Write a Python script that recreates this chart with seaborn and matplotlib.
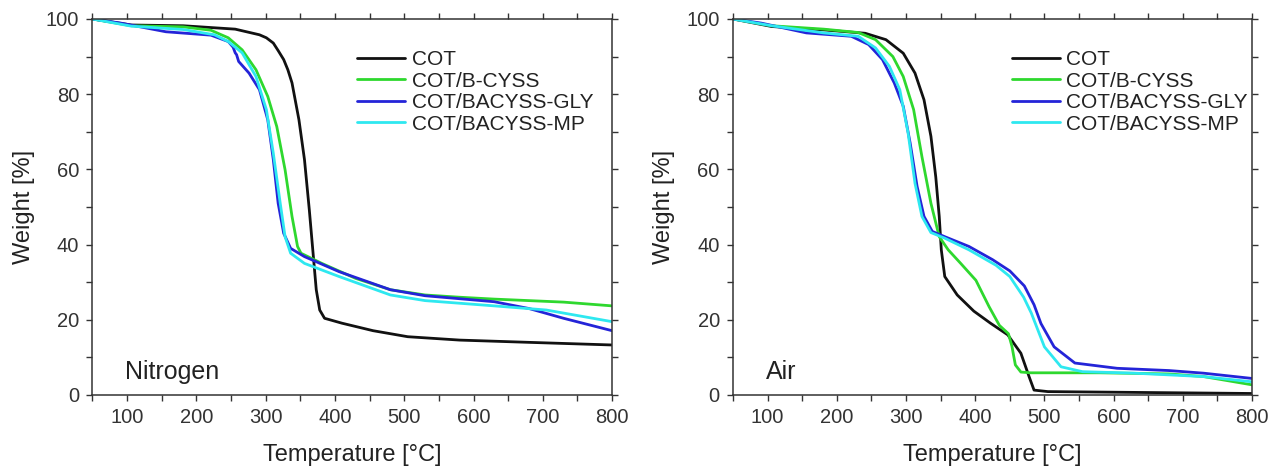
import numpy as np
import pandas as pd
import matplotlib
matplotlib.use('Agg')
import matplotlib.pyplot as plt
from matplotlib.ticker import MultipleLocator
import seaborn as sns

# Datos (TGA): temperatura [°C] y peso [%]
# --- Nitrogeno ---
n_cot_t = [50, 106, 181, 256, 291, 301, 311, 318, 326, 332, 338, 348, 356, 363, 368, 373, 378, 385, 410, 455, 505, 580, 680, 800]
n_cot_w = [100, 98.4, 98.2, 97.3, 95.8, 95.0, 93.6, 91.6, 89.2, 86.5, 83, 73.2, 62.6, 49.2, 38.6, 28, 22.6, 20.4, 19.1, 17.1, 15.5, 14.6, 14.0, 13.3]

n_bcyss_t = [50, 106, 181, 221, 246, 266, 286, 303, 316, 328, 338, 346, 351, 381, 430, 480, 530, 580, 630, 680, 730, 800]
n_bcyss_w = [100, 98.2, 97.9, 97, 95, 91.8, 86.5, 79.4, 71.4, 59.9, 47.5, 39.5, 37.7, 35, 31, 28, 26.6, 26, 25.5, 25.1, 24.7, 23.7]

n_gly_t = [50, 91, 156, 221, 246, 253, 256, 258, 261, 276, 291, 303, 311, 318, 326, 336, 356, 406, 480, 530, 630, 680, 730, 800]
n_gly_w = [100, 98.9, 96.6, 95.7, 94, 92.5, 91.0, 90.5, 88.7, 85.6, 81.2, 73.2, 62.6, 51, 43, 39, 36.8, 32.8, 28, 26.4, 24.8, 23, 20.4, 17.1]

n_mp_t = [50, 106, 181, 226, 246, 266, 286, 301, 311, 321, 328, 336, 356, 406, 480, 530, 630, 705, 800]
n_mp_w = [100, 98.1, 97.2, 95.8, 94, 91, 84.7, 75.9, 64.3, 51, 42.1, 37.7, 35, 31.5, 26.6, 25.1, 23.7, 22.6, 19.5]

# --- Aire ---
a_cot_t = [50, 106, 181, 241, 271, 296, 313, 326, 336, 343, 348, 351, 356, 374, 398, 422, 447, 466, 478, 485, 505, 800]
a_cot_w = [100, 98, 97.1, 96.2, 94.5, 90.9, 85.6, 78.5, 68.8, 58, 47.5, 38.6, 31.5, 26.6, 22.3, 19.1, 16, 11.1, 4.8, 1.3, 0.9, 0.4]

a_bcyss_t = [50, 106, 181, 231, 256, 281, 296, 311, 323, 336, 348, 361, 379, 401, 420, 435, 448, 453, 458, 466, 480, 580, 680, 730, 800]
a_bcyss_w = [100, 98.2, 97.3, 96.4, 94.5, 90, 84.7, 75.9, 63.4, 51, 42.1, 38.6, 35, 30.5, 23.5, 18.5, 16.3, 13, 8, 6.1, 5.9, 5.9, 5.6, 4.9, 2.7]

a_gly_t = [50, 91, 156, 221, 246, 266, 283, 296, 306, 316, 326, 338, 356, 391, 425, 450, 471, 485, 495, 514, 544, 605, 680, 730, 800]
a_gly_w = [100, 98.9, 96.3, 95.4, 93.2, 89.2, 83, 76.8, 67, 55.5, 47.5, 43.5, 42.1, 39.5, 36, 33, 29, 24, 19, 12.8, 8.5, 7.1, 6.5, 5.8, 4.4]

a_mp_t = [50, 106, 181, 231, 256, 276, 291, 303, 313, 323, 336, 356, 391, 430, 450, 470, 481, 500, 524, 555, 630, 730, 800]
a_mp_w = [100, 98.2, 96.3, 95.4, 92.3, 87.4, 81.2, 69.7, 56.3, 47.5, 43.2, 41.7, 38.6, 34.5, 31.5, 26, 21.8, 12.8, 7.5, 6.2, 5.8, 4.9, 3.5]

labels = ['COT', 'COT/B-CYSS', 'COT/BACYSS-GLY', 'COT/BACYSS-MP']
colors = ['#111111', '#2ed82e', '#2424d8', '#2ee8f0']

sns.set_style('ticks')
plt.rcParams['font.family'] = ['Liberation Sans', 'DejaVu Sans']
plt.rcParams['axes.edgecolor'] = '#333333'
plt.rcParams['axes.linewidth'] = 1.1
plt.rcParams['xtick.color'] = '#333333'
plt.rcParams['ytick.color'] = '#333333'
plt.rcParams['text.color'] = '#222222'
plt.rcParams['axes.labelcolor'] = '#222222'

fig = plt.figure(figsize=(12.81, 4.70), dpi=100)
ax1 = fig.add_axes([0.0722, 0.1596, 0.4056, 0.80])
ax2 = fig.add_axes([0.5722, 0.1596, 0.4052, 0.80])

paneles = [
    (ax1, [(n_cot_t, n_cot_w), (n_bcyss_t, n_bcyss_w), (n_gly_t, n_gly_w), (n_mp_t, n_mp_w)], 'Nitrogen', (0.494, 0.939), 0.0626),
    (ax2, [(a_cot_t, a_cot_w), (a_bcyss_t, a_bcyss_w), (a_gly_t, a_gly_w), (a_mp_t, a_mp_w)], 'Air', (0.522, 0.939), 0.0636),
]

for ax, series, nombre, pos_leg, x_txt in paneles:
    for (t, w), lab, col in zip(series, labels, colors):
        sns.lineplot(x=t, y=w, ax=ax, color=col, label=lab, linewidth=2.0, errorbar=None)
    ax.set_xlim(50, 800)
    ax.set_ylim(0, 100)
    ax.xaxis.set_major_locator(MultipleLocator(100))
    ax.xaxis.set_minor_locator(MultipleLocator(50))
    ax.yaxis.set_major_locator(MultipleLocator(20))
    ax.yaxis.set_minor_locator(MultipleLocator(10))
    ax.tick_params(which='both', direction='out', length=4.5, width=1.0, pad=5,
                   top=True, right=True, labelsize=14.5)
    ax.set_xlabel('Temperature [°C]', fontsize=17, labelpad=12)
    ax.set_ylabel('Weight [%]', fontsize=17, labelpad=8)
    ax.text(x_txt, 0.061, nombre, transform=ax.transAxes, fontsize=18, va='center', ha='left')
    ax.legend(loc='upper left', bbox_to_anchor=pos_leg, frameon=False, fontsize=15,
              handlelength=2.3, handletextpad=0.3, labelspacing=0.12, borderaxespad=0)

fig.savefig('out.png', dpi=100)
